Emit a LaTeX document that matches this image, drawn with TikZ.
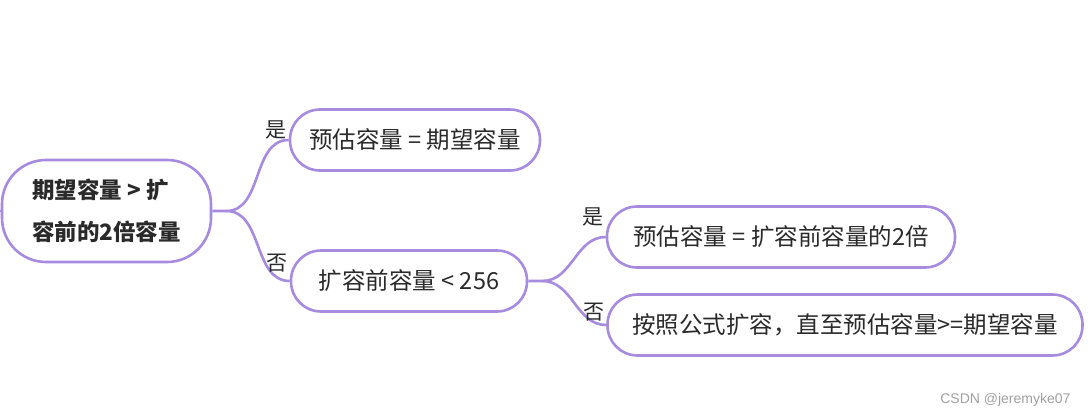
\documentclass[tikz,border=0pt]{standalone}
\usepackage{fontspec}
\setmainfont{Noto Sans CJK SC}
\newfontfamily\markfont{Liberation Sans}
\usetikzlibrary{positioning}
\definecolor{mmpurple}{HTML}{A68BDF}
\definecolor{markgray}{HTML}{A0A0A0}
\definecolor{inkgray}{HTML}{2A2A2A}

\begin{document}
\begin{tikzpicture}[x=1pt, y=-1pt,
    font=\fontsize{23.5}{27}\selectfont, text=inkgray,
    topic/.style={draw=mmpurple, line width=2.6pt, fill=white, rounded corners=30pt,
                  minimum height=61pt, inner xsep=15pt},
    branch/.style={draw=mmpurple, line width=2.6pt},
    yesno/.style={anchor=south east, inner sep=1pt, xshift=-1pt,
                  font=\fontsize{21}{25}\selectfont}]
  \useasboundingbox (0,0) rectangle (1090,418);
  % main question and its two answers
  \node[topic, rounded corners=44pt, minimum height=102pt, minimum width=209pt,
        align=left, font=\fontsize{22.5}{42}\bfseries\selectfont] (root) at (106.5,211)
       {期望容量 > 扩\\容前的2倍容量};
  \node[topic, minimum width=250pt] (same) at (415,140) {预估容量 = 期望容量};
  \node[topic, minimum width=236pt] (small) at (409,281) {扩容前容量 < 256};
  \node[topic, minimum width=348pt] (double) at (781,237) {预估容量 = 扩容前容量的2倍};
  \node[topic, minimum width=475pt] (formula) at (845,325) {按照公式扩容，直至预估容量>=期望容量};
  \coordinate (in) at (-6,211);
  \draw[branch] (in) -- (root.west);
  \draw[branch] (root.east) -- ++(14,0) coordinate (fork1) to[out=0, in=180] (same.west);
  \draw[branch] (fork1) to[out=0, in=180] (small.west);
  \draw[branch] (small.east) -- ++(14,0) coordinate (fork2) to[out=0, in=180] (double.west);
  \draw[branch] (fork2) to[out=0, in=180] (formula.west);
  \node[yesno] (yes1) at (same.west) {是};
  \node[yesno, yshift=8pt] (no1) at (small.west) {否};
  \node[yesno, yshift=10pt] (yes2) at (double.west) {是};
  \node[yesno, yshift=3pt] (no2) at (formula.west) {否};
  % watermark
  \node[anchor=east, text=markgray, font=\markfont\fontsize{14}{16}\selectfont] (mark) at (1074,400)
       {CSDN @jeremyke07};
\end{tikzpicture}
\end{document}
